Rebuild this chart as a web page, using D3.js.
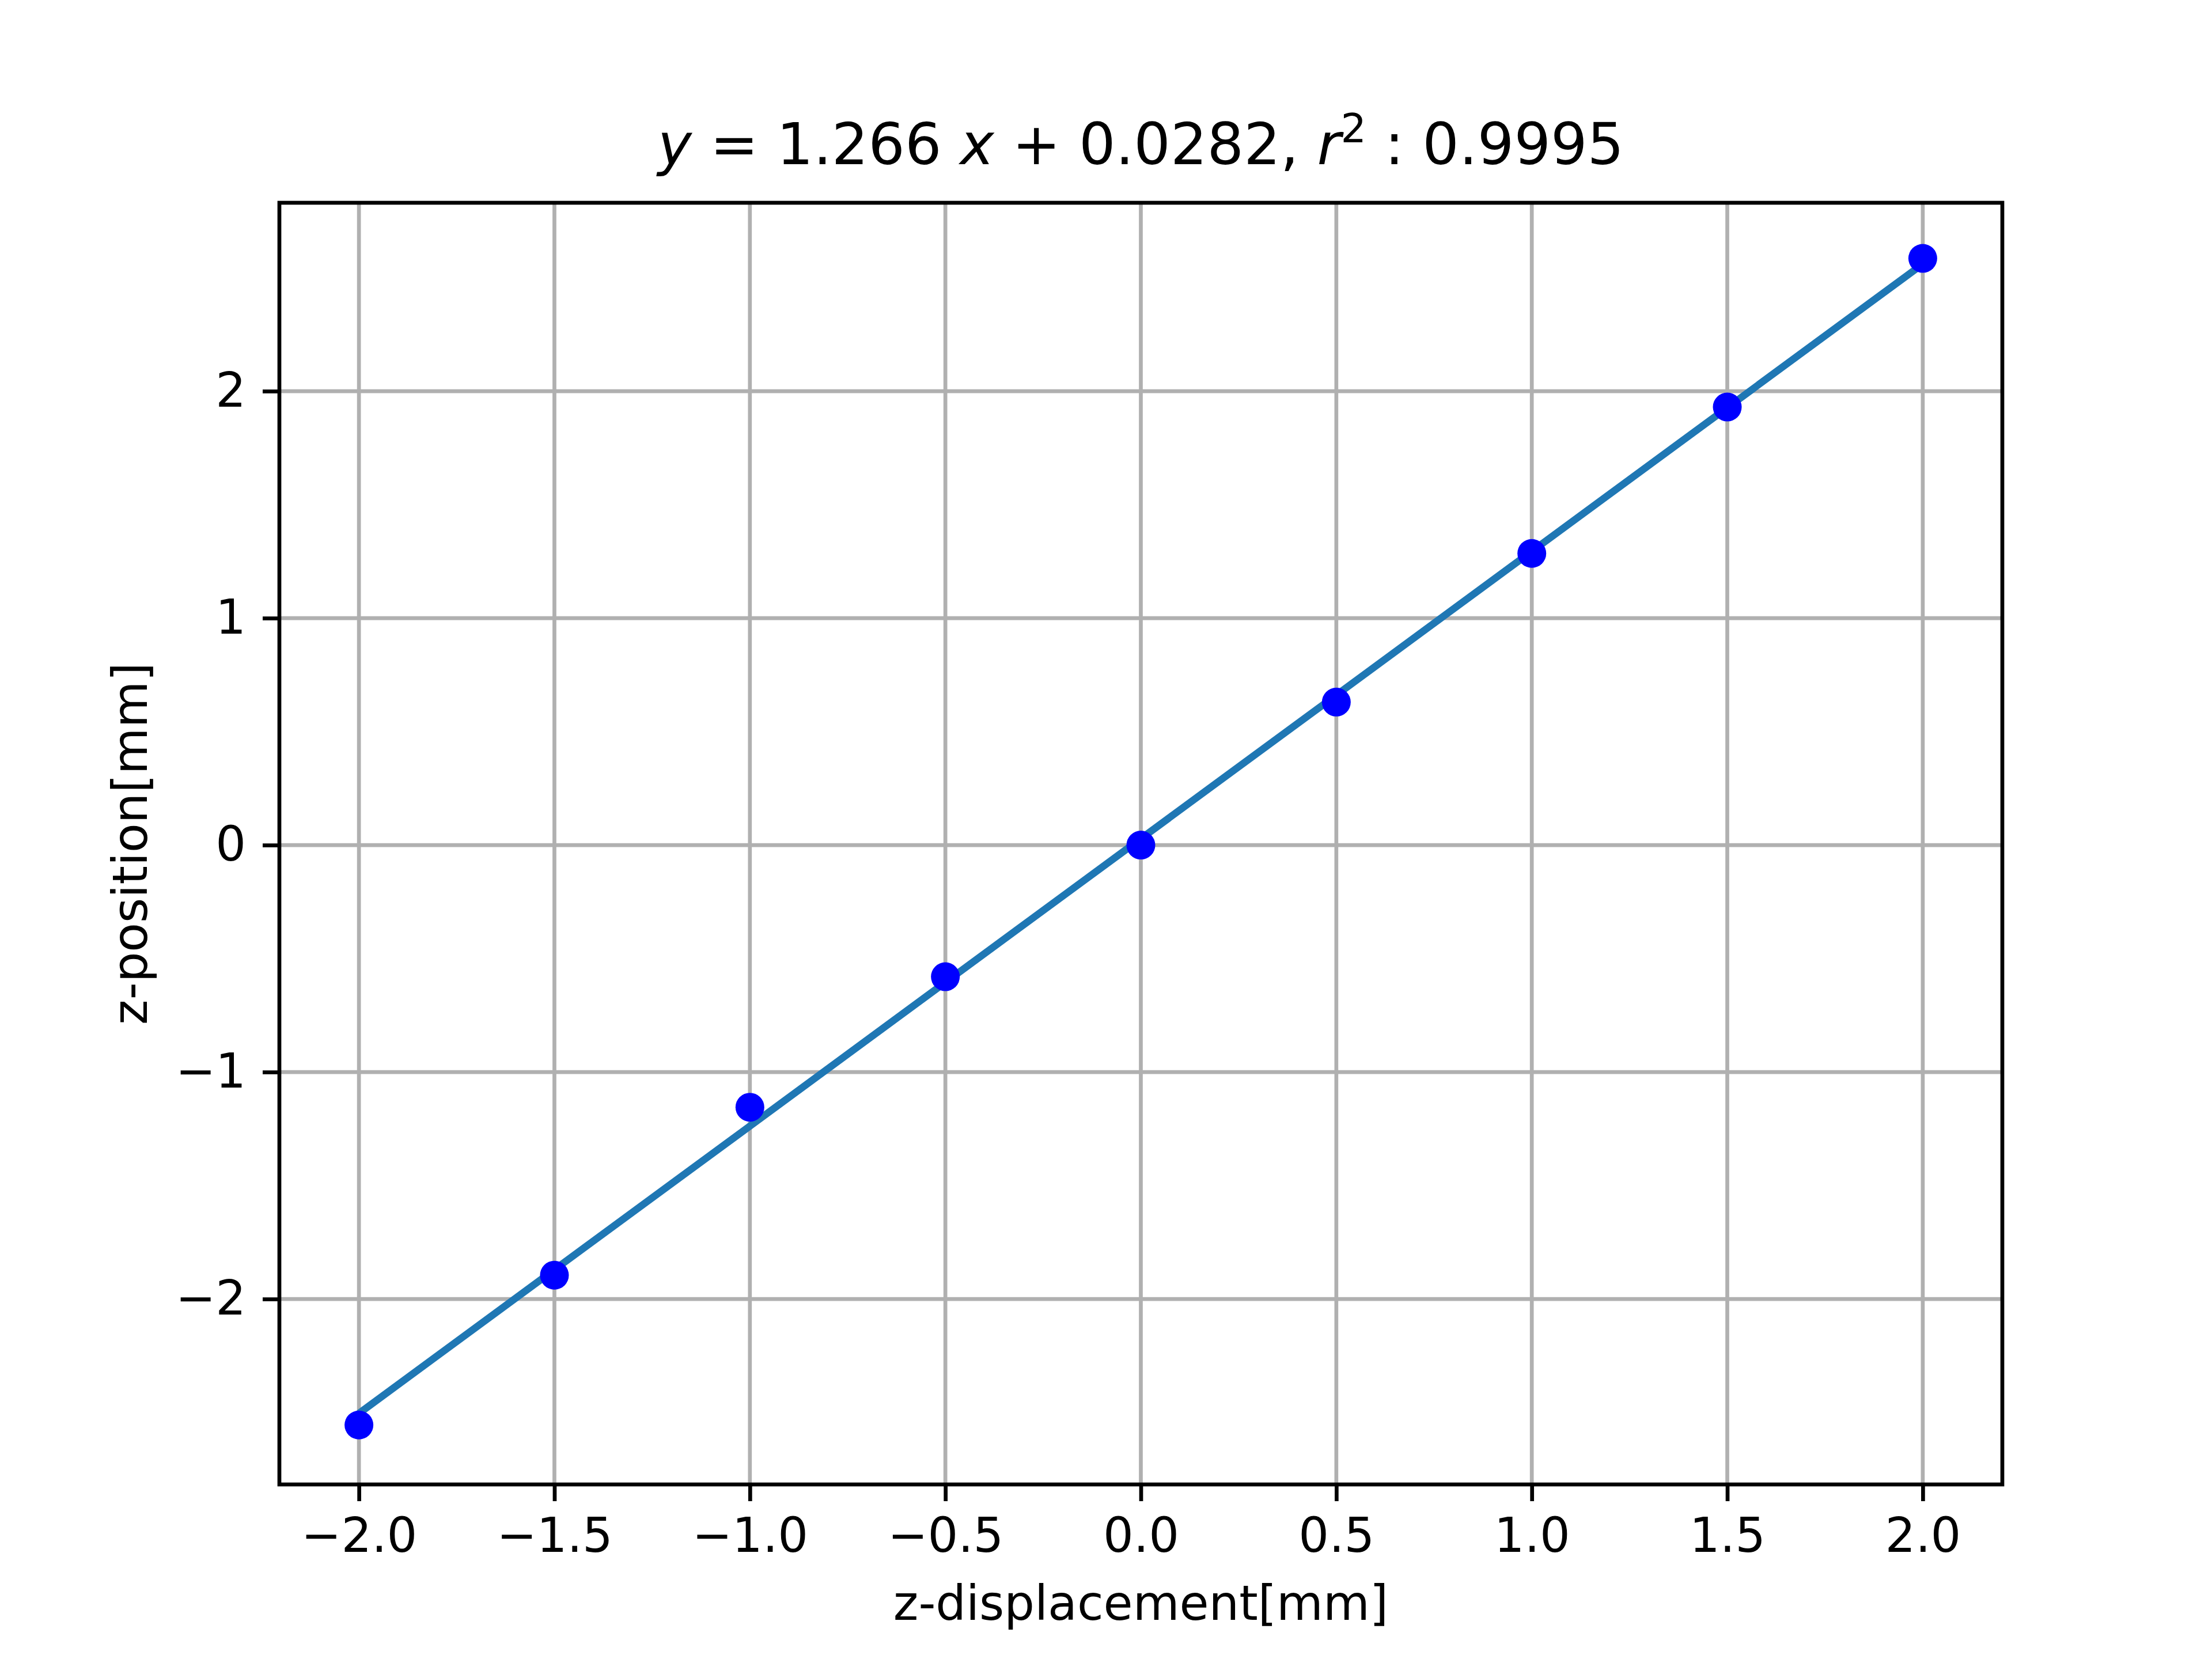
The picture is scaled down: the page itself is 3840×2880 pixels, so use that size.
<!DOCTYPE html>
<html><head><meta charset="utf-8">
<script src="https://cdn.jsdelivr.net/npm/d3@7"></script>
<style>body{margin:0;background:#fff}text{font-family:"DejaVu Sans",sans-serif}</style>
</head><body>
<script>
const xValues = [-2.0, -1.5, -1.0, -0.5, 0.0, 0.5, 1.0, 1.5, 2.0];
const yValues = [-2.555, -1.895, -1.155, -0.58, 0.0, 0.63, 1.285, 1.93, 2.585];
const slope = 1.266, intercept = 0.0282;
const xTicks = [-2.0, -1.5, -1.0, -0.5, 0.0, 0.5, 1.0, 1.5, 2.0];
const yTicks = [-2, -1, 0, 1, 2];

const W = 3840, H = 2880;
const L = 485, R = 3476, T = 352, B = 2577;
const svg = d3.select("body").append("svg").attr("width", W).attr("height", H);
const x = d3.scaleLinear().domain([-2.2035, 2.2035]).range([L, R]);
const y = d3.scaleLinear().domain([-2.817, 2.83]).range([B, T]);
const fmtMinus = s => s.replace("-", "\u2212");

// grid
svg.append("g").selectAll("line").data(xTicks).join("line")
  .attr("x1", d => x(d)).attr("x2", d => x(d)).attr("y1", T).attr("y2", B)
  .attr("stroke", "#b0b0b0").attr("stroke-width", 6.7);
svg.append("g").selectAll("line").data(yTicks).join("line")
  .attr("y1", d => y(d)).attr("y2", d => y(d)).attr("x1", L).attr("x2", R)
  .attr("stroke", "#b0b0b0").attr("stroke-width", 6.7);

// fit line
const line = d3.line().x(d => x(d)).y(d => y(slope * d + intercept));
svg.append("path").datum([xValues[0], xValues[xValues.length - 1]]).attr("d", line)
  .attr("fill", "none").attr("stroke", "#1f77b4").attr("stroke-width", 12.5);

// points
svg.append("g").selectAll("circle").data(xValues).join("circle")
  .attr("cx", d => x(d)).attr("cy", (d, i) => y(yValues[i])).attr("r", 25)
  .attr("fill", "#0000ff");

// axes
const xa = svg.append("g").attr("transform", `translate(0,${B})`)
  .call(d3.axisBottom(x).tickValues(xTicks).tickSize(29).tickPadding(29).tickFormat(d => fmtMinus(d3.format(".1f")(d))));
const ya = svg.append("g").attr("transform", `translate(${L},0)`)
  .call(d3.axisLeft(y).tickValues(yTicks).tickSize(29).tickPadding(29).tickFormat(d => fmtMinus(d3.format("d")(d))));
[xa, ya].forEach(a => {
  a.select(".domain").remove();
  a.selectAll("line").attr("stroke", "#000").attr("stroke-width", 6.7);
  a.selectAll("text").attr("font-size", 83).attr("fill", "#000").style("font-family", "DejaVu Sans");
});

// frame
svg.append("rect").attr("x", L).attr("y", T).attr("width", R - L).attr("height", B - T)
  .attr("fill", "none").attr("stroke", "#000").attr("stroke-width", 6.7);

// title
const t = svg.append("text").attr("x", (L + R) / 2).attr("y", 285).attr("text-anchor", "middle").attr("font-size", 100);
t.append("tspan").attr("font-style", "italic").text("y");
t.append("tspan").text(" = 1.266 ");
t.append("tspan").attr("font-style", "italic").text("x");
t.append("tspan").text(" + 0.0282, ");
t.append("tspan").attr("font-style", "italic").text("r");
t.append("tspan").attr("font-size", 70).attr("dy", -38).text("2");
t.append("tspan").attr("dy", 38).text(" : 0.9995");

svg.append("text").attr("x", (L + R) / 2).attr("y", 2812).attr("text-anchor", "middle").attr("font-size", 83).text("z-displacement[mm]");
svg.append("text").attr("transform", `translate(255,${(T + B) / 2}) rotate(-90)`).attr("text-anchor", "middle").attr("font-size", 83).text("z-position[mm]");
</script>
</body></html>
